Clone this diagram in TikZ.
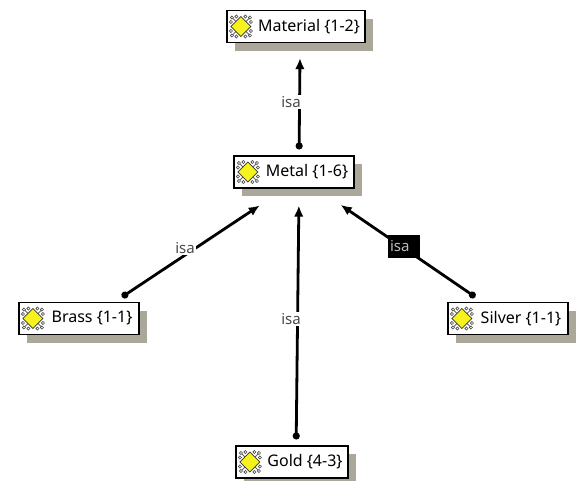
\documentclass[tikz,border=0pt]{standalone}
\usepackage{fontspec}
\setmainfont{Noto Sans}
\usetikzlibrary{arrows.meta,shadows}
\definecolor{shadowgray}{HTML}{ABA899}
\definecolor{isagray}{HTML}{4A4A4A}
\definecolor{isalight}{HTML}{BBBBBB}
\definecolor{iconyellow}{HTML}{F6F21E}
\tikzset{
	concept/.style={draw=black, line width=1.1pt, fill=white, inner sep=0pt, minimum height=32pt, font=\fontsize{16}{18}\selectfont,
		execute at begin node={\hspace*{26pt}},
		drop shadow={shadow xshift=8pt, shadow yshift=-8pt, fill=shadowgray, opacity=1}},
	isaline/.style={line width=2.8pt, {Circle[length=7pt]}-{Latex[length=11pt,width=9.5pt]}},
	isalabel/.style={fill=white, text=isagray, inner sep=1pt, font=\fontsize{15}{17}\selectfont},
	isaselected/.style={fill=black, text=isalight, inner xsep=2pt, inner ysep=0pt, minimum height=23pt, text width=28pt, align=left, font=\fontsize{15}{17}\selectfont},
	oreicon/.pic={
		\foreach \sx in {-1,1} \foreach \sy in {-1,1} {
			\draw [black!60, line width=.8pt] (0,0) -- (9*\sx,9*\sy);
			\draw [black!70, fill=white, line width=.6pt] (10*\sx,4.5*\sy) circle (1.6);
			\draw [black!70, fill=white, line width=.6pt] (4.5*\sx,10*\sy) circle (1.6);
			\draw [black!70, fill=white, line width=.6pt] (9*\sx,9*\sy) circle (1.6);
		}
		\draw [black!80, fill=iconyellow, line width=.7pt] (-10,0) -- (0,-10) -- (10,0) -- (0,10) -- cycle;
	}
}
\begin{document}
\begin{tikzpicture}[x=1pt, y=-1pt]
	\useasboundingbox (0,0) rectangle (578,480);
	\clip (0,0) rectangle (578,480);
	\node [concept, minimum width=138pt] (material) at (296,26.5) {Material \{1-2\}};
	\node [concept, minimum width=120pt] (metal) at (294,172) {Metal \{1-6\}};
	\node [concept, minimum width=120pt] (brass) at (79,318.5) {Brass \{1-1\}};
	\node [concept, minimum width=112pt] (gold) at (292,462) {Gold \{4-3\}};
	\node [concept, minimum width=120pt] (silver) at (508,318.5) {Silver \{1-1\}};
	\foreach \n in {material,metal,brass,gold,silver}
		\pic at ([xshift=14.5pt]\n.west) {oreicon};
	\draw [isaline, shorten <=6pt, shorten >=15pt] (metal.73) -- (material.-76);
	\draw [isaline, shorten <=9pt, shorten >=30.6pt] (brass.25) -- (metal.242);
	\draw [isaline, shorten <=6pt, shorten >=17pt] (gold.76) -- (metal.-73);
	\draw [isaline, shorten <=8.8pt, shorten >=29pt] (silver.147) -- (metal.-36);
	\node [isalabel] (materialisa) at (291,102) {isa};
	\node [isalabel] (brassisa) at (185,248) {isa};
	\node [isalabel] (goldisa) at (291,319) {isa};
	\node [isaselected] (silverisa) at (404,246.5) {isa};
\end{tikzpicture}
\end{document}
